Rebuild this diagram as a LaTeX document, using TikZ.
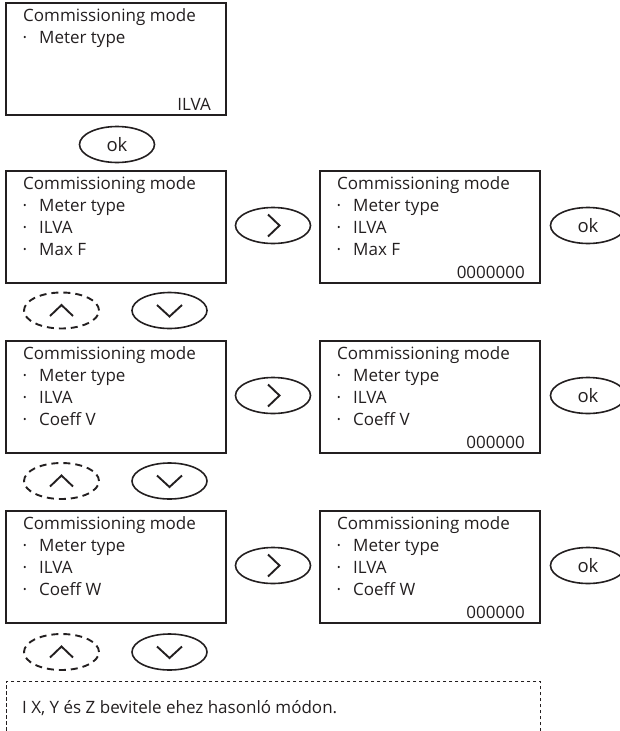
\documentclass[tikz,border=0pt]{standalone}
\usepackage{fontspec}
\setmainfont{Open Sans}
\usetikzlibrary{shapes.geometric}
\definecolor{ink}{HTML}{231F20}

% One display screen: frame, title, bullet entries and the value in the lower right corner
% #1 name, #2 left x, #3 top y, #4 bullet entries, #5 value
\newcommand\screenpanel[5]{%
  \node[screen] (#1) at (#2,#3) {};
  \node[txt] (#1-title) at (#2+17,#3+18) {Commissioning mode};
  \foreach \entry [count=\n] in {#4} {
    \node[dotmark] (#1-dot\n) at (#2+19,#3+18+22.3*\n) {·};
    \node[txt] (#1-entry\n) at (#2+33,#3+18+22.3*\n) {\entry};
  }
  \node[valtxt] (#1-value) at (#2+205,#3+107.5) {#5};
}

% Pair of up (dashed, inactive) and down keys below a screen
\newcommand\updownkeys[2]{% #1 name prefix, #2 centre y
  \node[keyoff] (#1-up) at (61.5,#2) {};
  \draw[chev] (#1-up.center) ++(-11.5,5.5) -- ++(11.5,-11) -- ++(11.5,11);
  \node[key] (#1-down) at (169.5,#2) {};
  \draw[chev] (#1-down.center) ++(-12.5,-5.5) -- ++(12.5,11.5) -- ++(12.5,-11.5);
}

% Right key and ok key of a row
\newcommand\rightkeys[2]{% #1 name prefix, #2 centre y
  \node[key] (#1-right) at (273,#2) {};
  \draw[chev] (#1-right.center) ++(-5,-11) -- ++(11.5,11) -- ++(-11.5,11);
  \node[key, okfont] (#1-ok) at (588,#2) {ok};
}

\begin{document}
\begin{tikzpicture}[x=1pt, y=-1pt,
  screen/.style={draw=ink, line width=1.1pt, minimum width=220pt, minimum height=112pt,
    inner sep=0pt, outer sep=0pt, anchor=north west},
  txt/.style={anchor=base west, inner sep=0pt, text=ink, font=\fontsize{17}{19}\selectfont},
  dotmark/.style={anchor=base, inner sep=0pt, text=ink, font=\fontsize{17}{19}\selectfont},
  valtxt/.style={anchor=base east, inner sep=0pt, text=ink, font=\fontsize{17}{19}\selectfont},
  okfont/.style={font=\fontsize{18.5}{22}\selectfont},
  key/.style={ellipse, draw=ink, line width=1.6pt, minimum width=75pt, minimum height=36pt,
    inner sep=0pt, text=ink},
  keyoff/.style={key, line width=1.9pt, dash pattern=on 7pt off 5pt},
  chev/.style={draw=ink, line width=1.9pt, line join=miter},
  note/.style={draw=ink, line width=0.9pt, dash pattern=on 3.5pt off 2.5pt,
    minimum width=534pt, minimum height=80pt, inner sep=0pt, anchor=north west},
]
\useasboundingbox (0,0) rectangle (620,731);
\clip (0,0) rectangle (620,731);

% first screen and its ok key
\screenpanel{s0}{6}{3}{Meter type}{ILVA}
\node[key, okfont] (s0-ok) at (117,144.5) {ok};

% Max F
\screenpanel{s1}{6}{171}{Meter type, ILVA, Max F}{}
\screenpanel{s1e}{320}{171}{Meter type, ILVA, Max F}{0000000}
\rightkeys{r1}{225.5}
\updownkeys{k1}{310.5}

% Coeff V
\screenpanel{s2}{6}{341}{Meter type, ILVA, Coeff V}{}
\screenpanel{s2e}{320}{341}{Meter type, ILVA, Coeff V}{000000}
\rightkeys{r2}{395.5}
\updownkeys{k2}{481}

% Coeff W
\screenpanel{s3}{6}{511}{Meter type, ILVA, Coeff W}{}
\screenpanel{s3e}{320}{511}{Meter type, ILVA, Coeff W}{000000}
\rightkeys{r3}{565.5}
\updownkeys{k3}{652}

% closing note, open towards the bottom
\node[note] (note) at (6,681) {};
\node[txt] (note-text) at (22,713) {I X, Y és Z bevitele ehez hasonló módon.};
\end{tikzpicture}
\end{document}
